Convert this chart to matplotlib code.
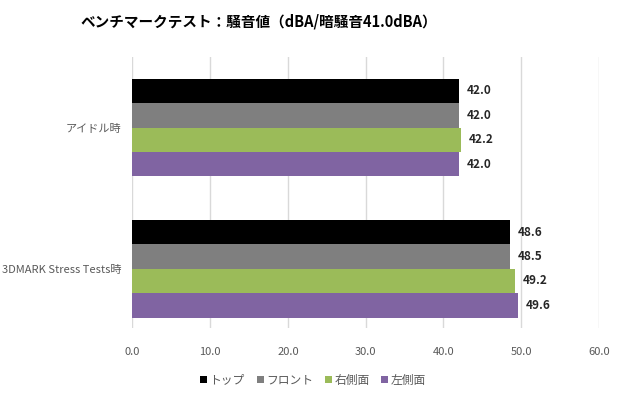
import matplotlib
matplotlib.use('Agg')
from matplotlib import pyplot as plt
import numpy as np

plt.rcParams['font.family'] = ['Noto Sans CJK JP', 'DejaVu Sans']

# データ
categories = ['アイドル時', '3DMARK Stress Tests時']
series_names = ['トップ', 'フロント', '右側面', '左側面']
top = [42.0, 48.6]
front = [42.0, 48.5]
right_side = [42.2, 49.2]
left_side = [42.0, 49.6]
colors = ['#000000', '#7f7f7f', '#9bbb59', '#8064a2']
xticks = [0, 10, 20, 30, 40, 50, 60]

fig = plt.figure(figsize=(6.2, 3.95), dpi=100)
ax = fig.add_axes([0.2137, 0.1696, 0.7524, 0.6861])

y = np.arange(len(categories))
h = 0.173
values = [top, front, right_side, left_side]
for i, (name, vals, c) in enumerate(zip(series_names, values, colors)):
    pos = y - 1.5 * h + i * h
    bars = ax.barh(pos, vals, height=h, color=c, label=name, zorder=3)
    for b, v in zip(bars, vals):
        ax.text(v + 1.0, b.get_y() + b.get_height() / 2, f'{v:.1f}',
                va='center', ha='left', fontsize=8.5, fontweight='bold',
                color='#262626')

ax.set_xlim(0, 60)
ax.set_ylim(1.42, -0.5)
ax.set_xticks(xticks)
ax.set_xticklabels([f'{t:.1f}' for t in xticks])
ax.set_yticks(y)
ax.set_yticklabels(categories)
ax.grid(axis='x', color='#d9d9d9', linewidth=1, zorder=0)
for s in ax.spines.values():
    s.set_visible(False)
ax.tick_params(axis='both', length=0, labelsize=8, labelcolor='#595959')
ax.tick_params(axis='x', pad=14)
ax.tick_params(axis='y', pad=8)

fig.text(0.418, 0.945, 'ベンチマークテスト：騒音値（dBA/暗騒音41.0dBA）',
         ha='center', va='center', fontsize=10.5, fontweight='bold', color='#000000')

fig.legend(loc='center', bbox_to_anchor=(0.505, 0.038), ncol=4, frameon=False,
           fontsize=8.5, handlelength=0.6, handleheight=0.6, handletextpad=0.2,
           columnspacing=1.0, labelcolor='#595959')

fig.savefig('out.png', dpi=100)
